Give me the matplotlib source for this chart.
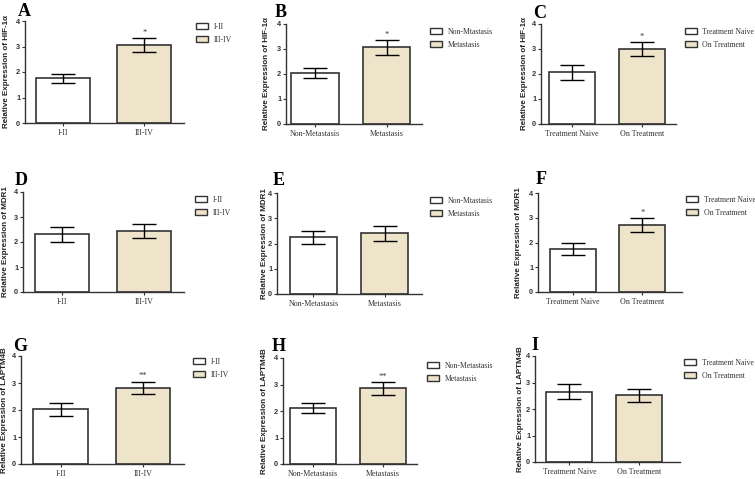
import matplotlib.pyplot as plt
from matplotlib.patches import Patch

W, H = 755, 479

# groups / labels
stage_groups = ["I-II", "III-IV"]
meta_groups = ["Non-Metastasis", "Metastasis"]
meta_legend_typo = ["Non-Mtastasis", "Metastasis"]
treat_groups = ["Treatment Naive", "On Treatment"]

panel_letters = ["A", "B", "C", "D", "E", "F", "G", "H", "I"]
genes = ["HIF-1\u03b1", "HIF-1\u03b1", "HIF-1\u03b1",
         "MDR1", "MDR1", "MDR1",
         "LAPTM4B", "LAPTM4B", "LAPTM4B"]
tick_labels = [stage_groups, meta_groups, treat_groups] * 3
legend_labels = [stage_groups, meta_legend_typo, treat_groups,
                 stage_groups, meta_legend_typo, treat_groups,
                 stage_groups, meta_groups, treat_groups]

# mean relative expression and error
means = [[1.76, 3.06], [2.04, 3.07], [2.07, 2.99],
         [2.31, 2.43], [2.24, 2.40], [1.75, 2.71],
         [2.02, 2.83], [2.11, 2.85], [2.66, 2.52]]
errors = [[0.18, 0.26], [0.20, 0.30], [0.30, 0.28],
          [0.31, 0.28], [0.27, 0.29], [0.24, 0.27],
          [0.25, 0.22], [0.20, 0.24], [0.30, 0.24]]
signif = [["", "*"], ["", "*"], ["", "*"],
          ["", ""], ["", ""], ["", "*"],
          ["", "**"], ["", "**"], ["", ""]]

# layout in pixels: axis left, axis right, y=4 row, y=0 row, xlim
axes_px = [(25, 184, 21, 123, (-0.47, 1.49)),
           (286, 422, 24, 124, (-0.40, 1.49)),
           (541, 676, 24, 124, (-0.44, 1.49)),
           (23, 184, 192, 292, (-0.48, 1.49)),
           (277, 422, 193, 294, (-0.51, 1.52)),
           (538, 682, 193, 292, (-0.50, 1.57)),
           (21, 184, 356, 464, (-0.48, 1.50)),
           (283, 417, 358, 464, (-0.43, 1.49)),
           (535, 680, 356, 462, (-0.49, 1.58))]
letter_px = [(18, 3), (275, 4), (533, 5), (15, 172), (273, 172), (536, 171),
             (13, 338), (272, 338), (531, 337)]
ylabel_x = [6, 266, 524, 6, 264, 518, 5, 265, 520]  # centre of the rotated label
legend_px = [(196, 27), (430, 32), (685, 32), (195, 200), (430, 201),
             (686, 200), (193, 362), (427, 366), (684, 363)]

colors = ["white", "#EEE4C9"]
edge = "#333333"

fig = plt.figure(figsize=(W / 100, H / 100), dpi=100)

for i in range(9):
    left, right, top, bottom, xlim = axes_px[i]
    ax = fig.add_axes([left / W, 1 - bottom / H, (right - left) / W, (bottom - top) / H])
    x = [0, 1]
    ax.bar(x, means[i], width=0.66, color=colors, edgecolor=edge, linewidth=1.2, zorder=2)
    ax.errorbar(x, means[i], yerr=errors[i], fmt="none", ecolor="black",
                elinewidth=1.0, capsize=8.5, capthick=1.0, zorder=3)
    for j in range(2):
        if signif[i][j]:
            ax.text(x[j], means[i][j] + errors[i][j] + 0.05, signif[i][j],
                    ha="center", va="bottom", fontsize=6, color="#333333",
                    family="Liberation Serif")
    ax.set_xlim(*xlim)
    ax.set_ylim(0, 4)
    ax.set_yticks([0, 1, 2, 3, 4])
    ax.set_xticks(x)
    ax.set_xticklabels(tick_labels[i], family="Liberation Serif", fontsize=5.8, color="#333333")
    for lab in ax.get_yticklabels():
        lab.set_family("Liberation Sans")
        lab.set_fontweight("bold")
        lab.set_fontsize(5.3)
        lab.set_color("#222222")
    ax.tick_params(axis="y", length=2.5, width=0.8, pad=1, colors="#333333")
    ax.tick_params(axis="x", length=2.5, width=0.8, pad=1.5, colors="#333333")
    for s in ["top", "right"]:
        ax.spines[s].set_visible(False)
    for s in ["left", "bottom"]:
        ax.spines[s].set_color("#333333")
        ax.spines[s].set_linewidth(1.0)
    ax.set_ylabel("Relative Expression of " + genes[i], family="Liberation Sans",
                  fontweight="bold", fontsize=5.8, color="#222222", va="center")
    ax.yaxis.set_label_coords((ylabel_x[i] - left) / (right - left), 0.5)

    lx, ly = letter_px[i]
    fig.text(lx / W, 1 - ly / H, panel_letters[i], family="Liberation Serif",
             fontweight="bold", fontsize=13, ha="left", va="top")

    handles = [Patch(facecolor=colors[k], edgecolor=edge, linewidth=1.0) for k in range(2)]
    gx, gy = legend_px[i]
    leg = fig.legend(handles, legend_labels[i], loc="upper left",
                     bbox_to_anchor=(gx / W, 1 - (gy - 4) / H),
                     bbox_transform=fig.transFigure, frameon=False, borderpad=0,
                     borderaxespad=0, handlelength=1.5, handleheight=0.8,
                     handletextpad=0.75, labelspacing=0.6,
                     prop={"family": "Liberation Serif", "size": 5.6})
    for t in leg.get_texts():
        t.set_color("#333333")

fig.savefig("out.png", dpi=100)
